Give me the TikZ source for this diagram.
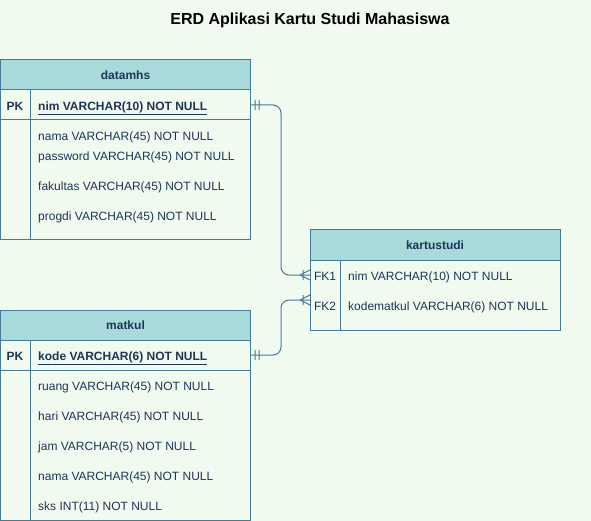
\documentclass[tikz,border=0pt]{standalone}
\usepackage{fontspec}
\setmainfont{Liberation Sans}
\definecolor{bg}{HTML}{F1FAEE}
\definecolor{head}{HTML}{A8DADC}
\definecolor{edge}{HTML}{457B9D}
\definecolor{ink}{HTML}{1D3557}
\tikzset{
    tbl/.style={draw=edge, line width=1pt},
    hdr/.style={tbl, fill=head, minimum width=250pt, minimum height=30pt, inner sep=0pt, text=ink, font=\fontsize{12}{14}\selectfont\bfseries},
    row/.style={tbl, minimum width=250pt, minimum height=30pt, inner sep=0pt},
    fld/.style={anchor=west, inner sep=0pt, text height=10.4pt, text depth=0pt, text=ink, font=\fontsize{12}{14}\selectfont},
    fldb/.style={fld, font=\fontsize{12}{14}\selectfont\bfseries},
    key/.style={fld, anchor=center},
    keyb/.style={fldb, anchor=center},
    rel/.style={draw=edge, line width=1pt, rounded corners=8pt},
}
\begin{document}
\begin{tikzpicture}[x=1pt, y=-1pt]
    \fill[bg] (0,0) rectangle (591,521);
    \useasboundingbox (0,0) rectangle (591,521);

    \node[font=\fontsize{16}{19}\selectfont\bfseries] (title) at (310,20) {ERD Aplikasi Kartu Studi Mahasiswa};

    % datamhs
    \node[hdr] (datamhs) at (125.5,75) {datamhs};
    \node[row] (dmpk) at (125.5,105) {};
    \draw[tbl] (0.5,120) rectangle (250.5,240) (30,90) -- (30,240);
    \node[keyb] (dmpkkey) at (15,105) {PK};
    \node[fldb] (dmnim) at (38,105) {\underline{nim VARCHAR(10) NOT NULL}};
    \node[fld] (dmnama) at (38,135) {nama VARCHAR(45) NOT NULL};
    \node[fld] (dmpass) at (38,155) {password VARCHAR(45) NOT NULL};
    \node[fld] (dmfak) at (38,185) {fakultas VARCHAR(45) NOT NULL};
    \node[fld] (dmprog) at (38,215) {progdi VARCHAR(45) NOT NULL};

    % kartustudi
    \node[hdr] (kartustudi) at (435,245) {kartustudi};
    \draw[tbl] (310,260) rectangle (560,330) (340,260) -- (340,330);
    \coordinate (fk1in) at (310,275);
    \coordinate (fk2in) at (310,300);
    \node[key] (ksfk1) at (325,275) {FK1};
    \node[fld] (ksnim) at (348,275) {nim VARCHAR(10) NOT NULL};
    \node[key] (ksfk2) at (325,305) {FK2};
    \node[fld] (kskode) at (348,305) {kodematkul VARCHAR(6) NOT NULL};

    % matkul
    \node[hdr] (matkul) at (125.5,325) {matkul};
    \node[row] (mkpk) at (125.5,355) {};
    \draw[tbl] (0.5,370) rectangle (250.5,520) (30,340) -- (30,520);
    \node[keyb] (mkpkkey) at (15,355) {PK};
    \node[fldb] (mkkode) at (38,355) {\underline{kode VARCHAR(6) NOT NULL}};
    \node[fld] (mkruang) at (38,385) {ruang VARCHAR(45) NOT NULL};
    \node[fld] (mkhari) at (38,415) {hari VARCHAR(45) NOT NULL};
    \node[fld] (mkjam) at (38,445) {jam VARCHAR(5) NOT NULL};
    \node[fld] (mknama) at (38,475) {nama VARCHAR(45) NOT NULL};
    \node[fld] (mksks) at (38,505) {sks INT(11) NOT NULL};

    % relations
    \draw[rel] (dmpk.east) -- ++(30,0) |- (fk1in);
    \draw[rel] (mkpk.east) -- ++(30,0) |- (fk2in);
    \draw[tbl]
    ([xshift=4pt]dmpk.east) ++(0,-5) -- ++(0,10)
    ([xshift=8pt]dmpk.east) ++(0,-5) -- ++(0,10)
    ([xshift=4pt]mkpk.east) ++(0,-5) -- ++(0,10)
    ([xshift=8pt]mkpk.east) ++(0,-5) -- ++(0,10)
    (fk1in) ++(-10,0) -- ++(10,-5) (fk1in) ++(-10,0) -- ++(10,5)
    (fk1in) ++(-7,-5) -- ++(0,10)
    (fk2in) ++(-10,0) -- ++(10,-5) (fk2in) ++(-10,0) -- ++(10,5)
    (fk2in) ++(-7,-5) -- ++(0,10);
\end{tikzpicture}
\end{document}
